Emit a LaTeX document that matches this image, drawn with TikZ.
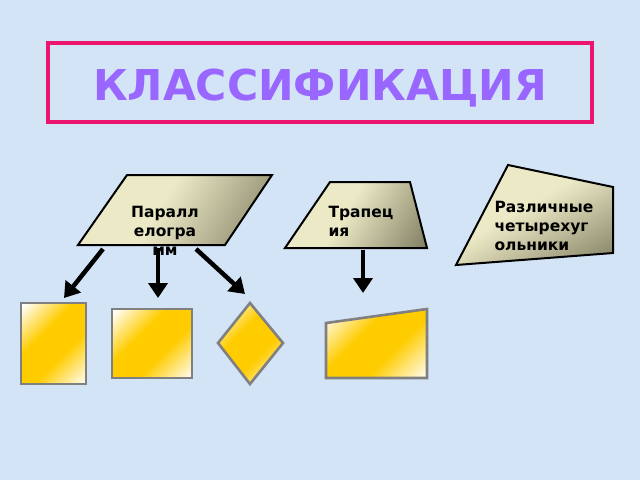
\documentclass[tikz,border=0pt]{standalone}
\usepackage{fontspec}
\setmainfont{DejaVu Sans}
\usetikzlibrary{arrows.meta}

\definecolor{bgblue}{RGB}{210,228,246}
\definecolor{framepink}{RGB}{236,20,110}
\definecolor{titlepurple}{RGB}{153,102,255}
\definecolor{khlight}{RGB}{236,234,198}
\definecolor{khdark}{RGB}{118,116,88}
\definecolor{golden}{RGB}{255,204,0}
\definecolor{edgegray}{RGB}{128,128,128}

\pgfdeclarehorizontalshading{khaki}{100bp}{color(0bp)=(khlight); color(45bp)=(khlight); color(88bp)=(khdark); color(100bp)=(khdark)}
\pgfdeclarehorizontalshading{goldfill}{100bp}{color(0bp)=(white); color(16bp)=(white); color(40bp)=(golden); color(60bp)=(golden); color(86bp)=(white); color(100bp)=(white)}

\tikzset{
    kind/.style={draw=black, line width=2pt, shading=khaki, shading angle=-30},
    sample/.style={draw=edgegray, line width=2.6pt, shading=goldfill, shading angle=-45},
    label/.style={font=\bfseries\fontsize{15.5}{18.8}\selectfont},
    arr/.style={line width=4.5pt, -{Triangle[width=19pt,length=15pt]}}
}

\begin{document}
\begin{tikzpicture}[x=1pt,y=-1pt]

\fill[bgblue] (0,0) rectangle (640,480);
\useasboundingbox (0,0) rectangle (640,480);

% title
\draw[framepink, line width=4pt] (48,43) rectangle (592,122);
\node[anchor=base, text=titlepurple, font=\bfseries\fontsize{42.5}{42.5}\selectfont] (title) at (320,100) {КЛАССИФИКАЦИЯ};

% kinds
\shade[kind] (127,175) -- (272,175) -- (225,245) -- (78,245) -- cycle;
\shade[kind] (330,182) -- (410,182) -- (427,248) -- (285,248) -- cycle;
\shade[kind, shading angle=-60] (508,165) -- (613,187) -- (613,253) -- (456,265) -- cycle;

\node[label, align=center] (par) at (165,231) {Паралл\\елогра\\мм};
\node[label, align=left, anchor=west] (trap) at (325,221) {Трапец\\ия};
\node[label, align=left, anchor=west] (quad) at (491,226) {Различные\\четырехуг\\ольники};

% samples
\shade[sample] (21,303) rectangle (86,384);
\shade[sample] (112,309) rectangle (192,378);
\shade[sample] (250,303) -- (283,343) -- (250,384) -- (218,343) -- cycle;
\shade[sample] (326,323) -- (427,309) -- (427,378) -- (326,378) -- cycle;

\coordinate (p1) at (103,249);
\coordinate (p2) at (158,248);
\coordinate (p3) at (196,249);
\coordinate (t1) at (363,250);
\coordinate (rect) at (64,298);
\coordinate (sq) at (158,298);
\coordinate (rh) at (245,294);
\coordinate (tz) at (363,293);

\draw[arr] (p1) -- (rect);
\draw[arr] (p2) -- (sq);
\draw[arr] (p3) -- (rh);
\draw[arr] (t1) -- (tz);

\end{tikzpicture}
\end{document}
